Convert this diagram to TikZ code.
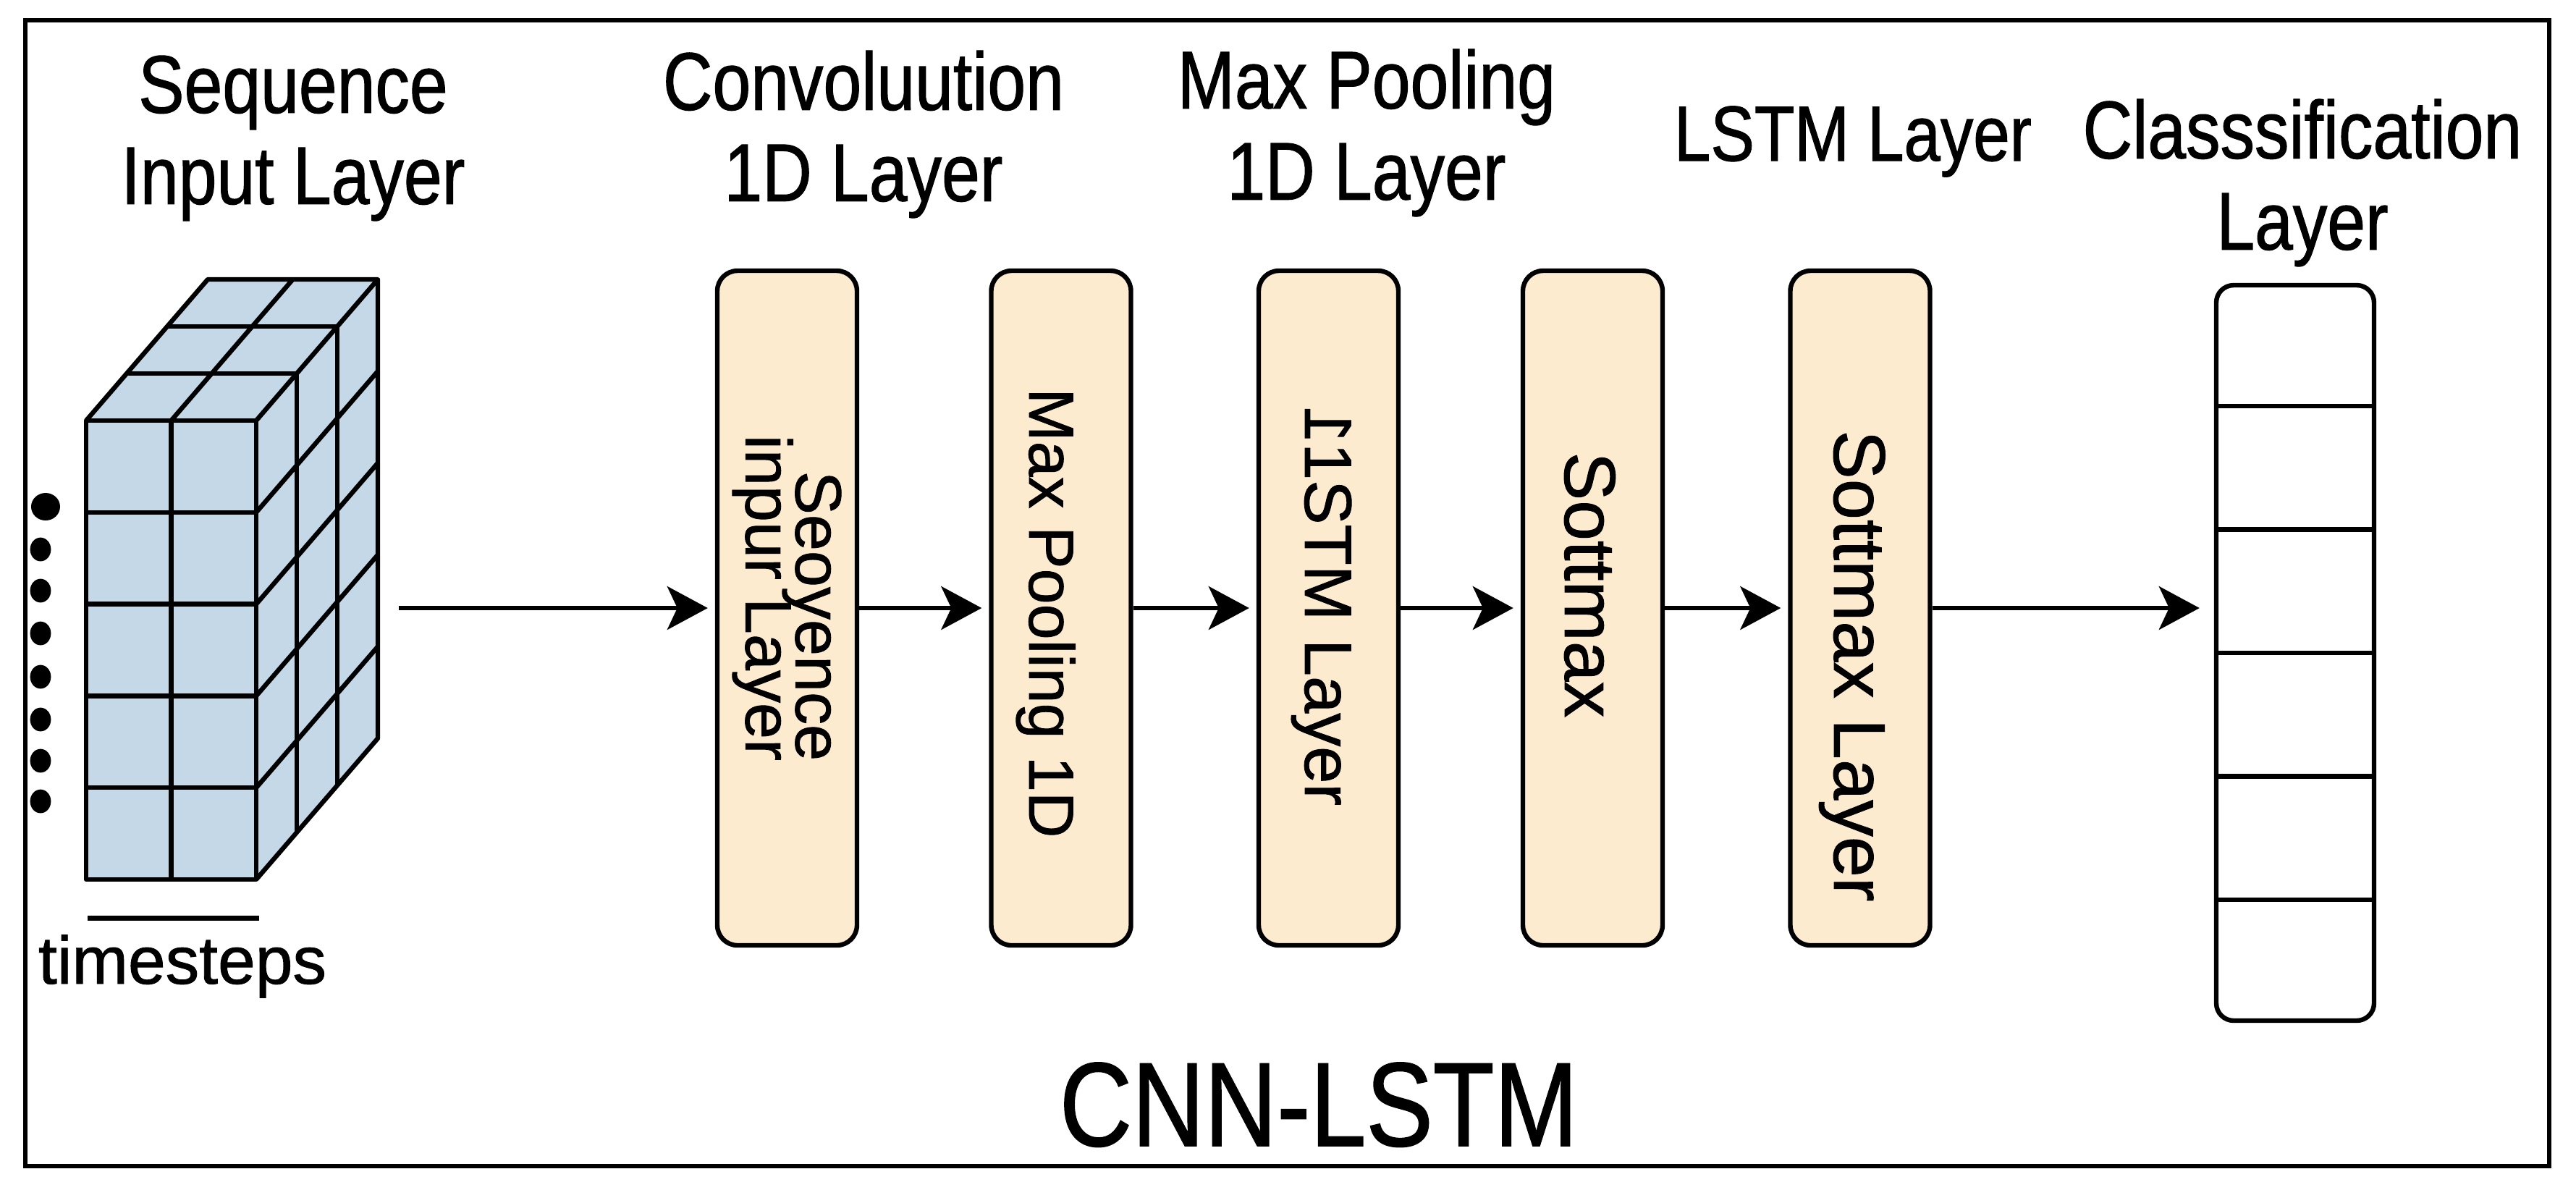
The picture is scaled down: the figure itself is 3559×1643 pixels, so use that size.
\documentclass[tikz,border=0pt]{standalone}
\usepackage{fontspec}
\usepackage{graphicx}
\setmainfont{Liberation Sans}[FakeBold=1]
\newfontfamily\narrowsans{Liberation Sans}[FakeStretch=0.84,FakeBold=1]
\usetikzlibrary{arrows.meta,calc}
\definecolor{peach}{RGB}{253,235,208}
\definecolor{cubeblue}{RGB}{196,216,232}
\newcommand{\tightlinesfont}{\fontsize{22.5pt}{17.25pt}\selectfont\lineskiplimit=-100pt\relax}
\tikzset{
  layerbox/.style={draw=black, fill=peach, line width=1.6pt, rounded corners=7pt,
    minimum width=48.25pt, minimum height=233pt, inner sep=0pt},
  boxlabel/.style={rotate=-90, anchor=base, inner sep=0pt},
  toplabel/.style={font=\narrowsans\fontsize{28.25pt}{31.5pt}\selectfont, align=center,
    anchor=north, inner sep=0pt},
  flow/.style={-{Stealth[length=14pt,width=15pt,inset=3.5pt]}, line width=1.3pt, shorten >=2.5pt},
  cubeline/.style={line width=1.6pt, line join=round},
  cellline/.style={line width=1.6pt},
}
\begin{document}
\begin{tikzpicture}[x=0.25pt,y=-0.25pt]
\fill[white] (0,0) rectangle (3559,1643);
\useasboundingbox (0,0) rectangle (3559,1643);
% frame
\draw[line width=1.6pt] (35,28) rectangle (3522,1611);

% ---- input cube ----
\fill[cubeblue] (119,581) rectangle (354,1215);
\fill[cubeblue] (119,581) -- (354,581) -- (522,386) -- (287,386) -- cycle;
\fill[cubeblue] (354,581) -- (522,386) -- (522,1020) -- (354,1215) -- cycle;
% front grid
\draw[cubeline] (236.5,581) -- (236.5,1215);
\foreach \k in {1,...,4}{
  \draw[cubeline] (119,581+126.8*\k) -- (354,581+126.8*\k);
  \draw[cubeline] (354,581+126.8*\k) -- (522,386+126.8*\k);
}
% top grid
\foreach \k in {1,2}{
  \draw[cubeline] (119+56*\k,581-65*\k) -- (354+56*\k,581-65*\k);
  \draw[cubeline] (354+56*\k,581-65*\k) -- (354+56*\k,1215-65*\k);
}
\draw[cubeline] (236.5,581) -- (404.5,386);
% outlines
\draw[cubeline] (119,581) rectangle (354,1215);
\draw[cubeline] (119,581) -- (287,386) -- (522,386) -- (354,581);
\draw[cubeline] (522,386) -- (522,1020) -- (354,1215);

% dots
\fill (63,700) ellipse [x radius=5pt, y radius=4.75pt];
\foreach \yy in {759,816,875,935,994,1051,1107}{
  \fill (56,\yy) ellipse [x radius=3.6pt, y radius=4.1pt];
}
% timesteps
\draw[line width=1.75pt] (121,1268) -- (358,1268);
\node[font=\fontsize{23.25pt}{28pt}\selectfont, anchor=base, inner sep=0pt] (ts) at (252,1359) {timesteps};

% ---- layer boxes ----
\node[layerbox] (b1) at (1087.5,840) {};
\node[layerbox] (b2) at (1466,840) {};
\node[layerbox] (b3) at (1835.5,840) {};
\node[layerbox] (b4) at (2200.5,840) {};
\node[layerbox] (b5) at (2570,840) {};

\node[rotate=-90, inner sep=0pt, align=right, font={\tightlinesfont}] (t1) at (1087,826) {Seoyence\\inpur Layer};
\node[boxlabel, font=\fontsize{22pt}{26pt}\selectfont] (t2) at (1422,847) {Max Pooling 1D};
\node[boxlabel, font=\fontsize{23pt}{27pt}\selectfont] (t3) at (1803,837) {\reflectbox{1}1STM Layer};
\node[boxlabel, font=\fontsize{25pt}{29pt}\selectfont] (t4) at (2162,808) {Sottmax};
\node[boxlabel, font=\fontsize{25.25pt}{30pt}\selectfont] (t5) at (2534,920) {Sottmax Layer};

% ---- classification vector ----
\node[draw=black, fill=white, line width=1.6pt, rounded corners=6pt,
      minimum width=54.5pt, minimum height=254pt, inner sep=0pt] (cls) at (3171,902) {};
\foreach \k in {1,...,5}{
  \draw[cellline] ($(cls.north west)!\k/6!(cls.south west)$) -- ($(cls.north east)!\k/6!(cls.south east)$);
}

% ---- connectors ----
\coordinate (cubeout) at (551,840);
\draw[flow] (cubeout) -- (b1.west);
\draw[flow] (b1.east) -- (b2.west);
\draw[flow] (b2.east) -- (b3.west);
\draw[flow] (b3.east) -- (b4.west);
\draw[flow] (b4.east) -- (b5.west);
\draw[flow, shorten >=5pt] (b5.east) -- (b5.east -| cls.west);

% ---- titles ----
\node[toplabel] (l1) at (405,76) {Sequence\\Input Layer};
\node[toplabel] (l2) at (1193,69) {Convoluution\\1D Layer};
\node[toplabel] (l3) at (1888,67) {Max Pooling\\1D Layer};
\node[font=\narrowsans\fontsize{27pt}{31pt}\selectfont, anchor=base, inner sep=0pt] (l4) at (2560,222) {LSTM Layer};
\node[toplabel] (l5) at (3181,136) {Classsification\\Layer};
\node[font=\narrowsans\fontsize{41.25pt}{48pt}\selectfont, anchor=base, inner sep=0pt] (title) at (1822,1583) {CNN-LSTM};
\end{tikzpicture}
\end{document}
